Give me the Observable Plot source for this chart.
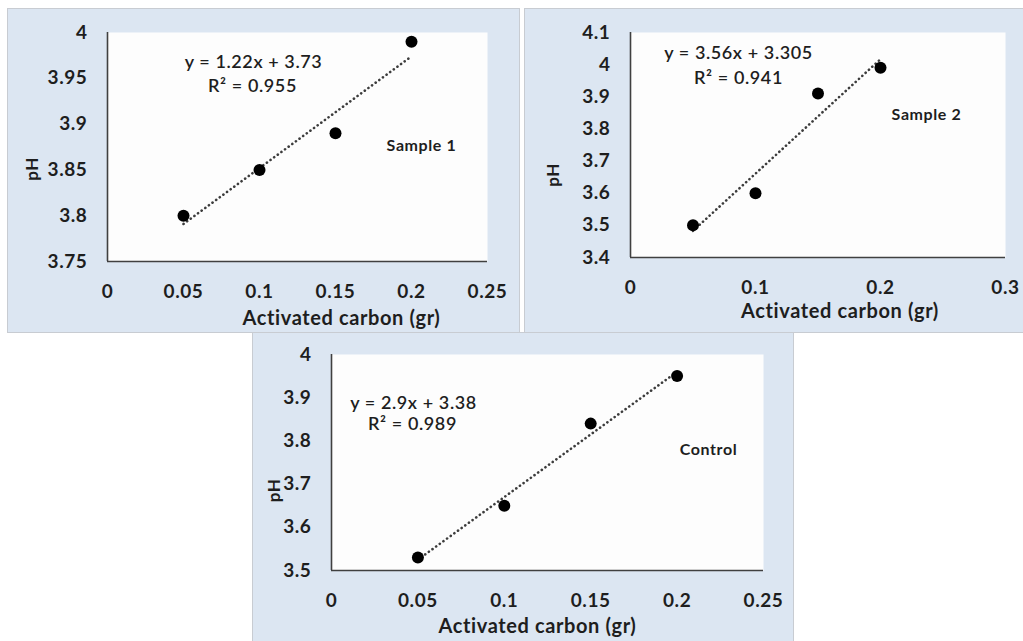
<!DOCTYPE html>
<html><head><meta charset="utf-8">
<script src="https://cdn.jsdelivr.net/npm/d3@7"></script>
<script src="https://cdn.jsdelivr.net/npm/@observablehq/plot@0.6"></script>
<style>
html,body{margin:0;padding:0;background:#fff}
body{width:1023px;height:641px;position:relative;overflow:hidden;font-family:Lato,sans-serif}
.panel{position:absolute;background:#dce6f2;box-shadow:0 0 0 1px #c8ccd2}
.panel svg{display:block}
</style></head><body>
<div id="p1" class="panel" style="left:8px;top:9px;width:511px;height:323px"></div>
<div id="p2" class="panel" style="left:525px;top:9px;width:498px;height:323px"></div>
<div id="p3" class="panel" style="left:253px;top:333px;width:540px;height:308px"></div>
<script>
// ---- data ----
const carbon = [0.05, 0.1, 0.15, 0.2];
const phSample1 = [3.80, 3.85, 3.89, 3.99];
const phSample2 = [3.50, 3.60, 3.91, 3.99];
const phControl = [3.53, 3.65, 3.84, 3.95];

const xTicks1 = [0, 0.05, 0.1, 0.15, 0.2, 0.25];
const yTicks1 = [3.75, 3.8, 3.85, 3.9, 3.95, 4];
const xTicks2 = [0, 0.1, 0.2, 0.3];
const yTicks2 = [3.4, 3.5, 3.6, 3.7, 3.8, 3.9, 4, 4.1];
const xTicks3 = [0, 0.05, 0.1, 0.15, 0.2, 0.25];
const yTicks3 = [3.5, 3.6, 3.7, 3.8, 3.9, 4];

const seriesNames = ["Sample 1", "Sample 2", "Control"];
const equations = ["y = 1.22x + 3.73", "y = 3.56x + 3.305", "y = 2.9x + 3.38"];
const rSquared = ["R\u00B2 = 0.955", "R\u00B2 = 0.941", "R\u00B2 = 0.989"];
const xTitle = "Activated carbon (gr)";
const yTitle = "pH";

const fmt = d3.format("~g");
const ink = "#1e1e1e";

function panel(el, cfg) {
  const data = carbon.map((c, i) => ({c, ph: cfg.ph[i]}));
  const L = cfg.layout;
  const T = {textAnchor: "middle", lineAnchor: "middle", fill: ink};
  const chart = Plot.plot({
    width: cfg.width, height: cfg.height,
    marginLeft: cfg.margin[0], marginRight: cfg.margin[1], marginTop: cfg.margin[2], marginBottom: cfg.margin[3],
    style: {background: "transparent", fontFamily: "Lato, sans-serif", fontSize: "19px", fontWeight: "bold", color: ink, letterSpacing: "0.6px", overflow: "visible"},
    x: {domain: [cfg.xTicks[0], cfg.xTicks[cfg.xTicks.length - 1]]},
    y: {domain: [cfg.yTicks[0], cfg.yTicks[cfg.yTicks.length - 1]]},
    marks: [
      Plot.frame({fill: "#fdfdfd", stroke: null}),
      Plot.ruleX([cfg.xTicks[0]], {stroke: "#404040", strokeWidth: 1.6}),
      Plot.ruleY([cfg.yTicks[0]], {stroke: "#404040", strokeWidth: 1.6}),
      Plot.axisY({ticks: cfg.yTicks, tickFormat: fmt, tickSize: 0, tickPadding: 20, label: null}),
      Plot.axisX({ticks: cfg.xTicks, tickFormat: fmt, tickSize: 0, tickPadding: 23, label: null}),
      Plot.linearRegressionY(data, {x: "c", y: "ph", ci: 0, stroke: "#3c3c3c", strokeWidth: 2.6, strokeLinecap: "round", strokeDasharray: "0.1,4.4"}),
      Plot.dot(data, {x: "c", y: "ph", r: 6, fill: "#000", stroke: null}),
      Plot.text([cfg.eq], {...T, frameAnchor: "top-left", dx: L.eq[0], dy: L.eq[1], fontSize: 18, fontWeight: 600}),
      Plot.text([cfg.r2], {...T, frameAnchor: "top-left", dx: L.r2[0], dy: L.r2[1], fontSize: 18, fontWeight: 600}),
      Plot.text([cfg.name], {...T, frameAnchor: "top-left", dx: L.name[0], dy: L.name[1], fontSize: 16, fontWeight: "bold"}),
      Plot.text([xTitle], {...T, frameAnchor: "bottom", dx: L.xt[0], dy: L.xt[1], fontSize: 20, fontWeight: "bold"}),
      Plot.text([yTitle], {...T, frameAnchor: "left", dx: L.yt[0], dy: L.yt[1], rotate: -90, fontSize: 17, fontWeight: "bold"})
    ]
  });
  document.getElementById(el).appendChild(chart);
}

panel("p1", {width: 511, height: 323, margin: [99, 32, 23, 71], xTicks: xTicks1, yTicks: yTicks1, ph: phSample1,
  eq: equations[0], r2: rSquared[0], name: seriesNames[0],
  layout: {eq: [146, 30], r2: [145, 54], name: [314, 113], xt: [44, 57], yt: [-75, 22]}});
panel("p2", {width: 498, height: 323, margin: [105, 18, 23, 75], xTicks: xTicks2, yTicks: yTicks2, ph: phSample2,
  eq: equations[1], r2: rSquared[1], name: seriesNames[1],
  layout: {eq: [108, 21], r2: [108, 46], name: [296, 82], xt: [22, 54], yt: [-77, 30]}});
panel("p3", {width: 540, height: 308, margin: [78, 30, 21, 71], xTicks: xTicks3, yTicks: yTicks3, ph: phControl,
  eq: equations[2], r2: rSquared[2], name: seriesNames[2],
  layout: {eq: [82, 49], r2: [81, 70], name: [377, 95], xt: [-10, 56], yt: [-57, 28]}});
</script>
</body></html>
